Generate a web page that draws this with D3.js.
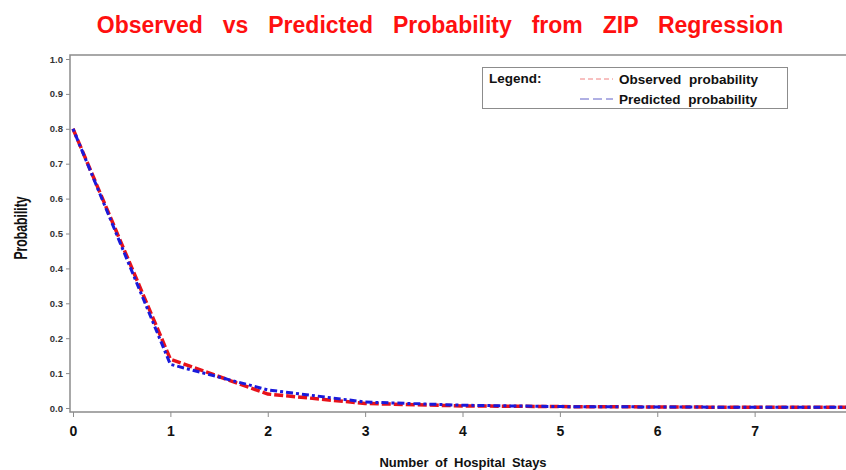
<!DOCTYPE html>
<html>
<head>
<meta charset="utf-8">
<script src="https://cdn.jsdelivr.net/npm/d3@7"></script>
<style>
  body { margin: 0; background: #fff; }
  text { font-family: Arial, "Liberation Sans", sans-serif; }
</style>
</head>
<body>
<div id="chart"></div>
<script>
// values
const stays = [0, 1, 2, 3, 4, 5, 6, 7, 8]
const observed = [0.80, 0.14, 0.04, 0.013, 0.006, 0.004, 0.003, 0.002, 0.002]
const predicted = [0.80, 0.125, 0.052, 0.017, 0.008, 0.004, 0.003, 0.002, 0.002]
const yTicks = [0, 0.1, 0.2, 0.3, 0.4, 0.5, 0.6, 0.7, 0.8, 0.9, 1.0]
const xTicks = [0, 1, 2, 3, 4, 5, 6, 7]

const width = 846, height = 470
const frame = {left: 70, top: 55, bottom: 412}

const svg = d3.select("#chart").append("svg")
  .attr("width", width).attr("height", height)

let x = d3.scaleLinear().domain([0, 8]).range([73, 852])
let y = d3.scaleLinear().domain([0, 1]).range([408, 59])

// frame lines
svg.append("path")
  .attr("d", `M${width},${frame.top}H${frame.left}V${frame.bottom}H${width}`)
  .attr("fill", "none").attr("stroke", "#8c8c8c").attr("stroke-width", 1.5)

let yAxis = g => g
  .attr("transform", `translate(${frame.left},0)`)
  .call(d3.axisLeft(y).tickValues(yTicks).tickSize(4).tickPadding(3).tickFormat(d3.format(".1f")))
  .call(g => g.select(".domain").remove())
  .call(g => g.selectAll("line").attr("stroke", "#8c8c8c"))
  .call(g => g.selectAll("text").attr("font-size", 9.5).attr("font-weight", "bold").attr("fill", "#333"))

let xAxis = g => g
  .attr("transform", `translate(0,${frame.bottom})`)
  .call(d3.axisBottom(x).tickValues(xTicks).tickSize(5).tickPadding(9).tickFormat(d3.format("d")))
  .call(g => g.select(".domain").remove())
  .call(g => g.selectAll("line").attr("stroke", "#8c8c8c"))
  .call(g => g.selectAll("text").attr("font-size", 14).attr("font-weight", "bold").attr("fill", "#111"))

svg.append("g").call(yAxis)
svg.append("g").call(xAxis)

const line = d3.line().x((d, i) => x(stays[i])).y(d => y(d))

svg.append("path")
  .datum(observed)
  .attr("d", line)
  .attr("fill", "none")
  .attr("stroke", "#e8121a")
  .attr("stroke-width", 3.5)
  .attr("stroke-dasharray", "9,3")

svg.append("path")
  .datum(predicted)
  .attr("d", line)
  .attr("fill", "none")
  .attr("stroke", "#1a1adb")
  .attr("stroke-width", 3)
  .attr("stroke-dasharray", "3,3,7,3")

// title
svg.append("text")
  .attr("x", 440).attr("y", 33)
  .attr("text-anchor", "middle")
  .attr("font-size", 23).attr("font-weight", "bold")
  .attr("fill", "#ff1010")
  .attr("word-spacing", 13.5)
  .text("Observed vs Predicted Probability from ZIP Regression")

// axis titles
svg.append("text")
  .attr("x", 463).attr("y", 467)
  .attr("text-anchor", "middle")
  .attr("font-size", 13).attr("font-weight", "bold")
  .attr("word-spacing", 3)
  .attr("fill", "#111")
  .text("Number of Hospital Stays")

svg.append("text")
  .attr("transform", "translate(27,228) rotate(-90) scale(0.68,1)")
  .attr("text-anchor", "middle")
  .attr("font-size", 18).attr("font-weight", "bold")
  .attr("fill", "#111")
  .text("Probability")

// legend
const legend = svg.append("g")
legend.append("rect")
  .attr("x", 482.5).attr("y", 67.5).attr("width", 305).attr("height", 41)
  .attr("fill", "#fff").attr("stroke", "#8c8c8c")
legend.append("text")
  .attr("x", 489).attr("y", 83)
  .attr("font-size", 13.5).attr("font-weight", "bold").attr("fill", "#111")
  .text("Legend:")

const legendItems = [
  {label: "Observed probability", color: "#f08080", dash: "5,3", y: 79},
  {label: "Predicted probability", color: "#6060c8", dash: "9,4", y: 99}
]
legend.selectAll("line.key")
  .data(legendItems)
  .join("line")
  .attr("x1", 580).attr("x2", 613)
  .attr("y1", d => d.y).attr("y2", d => d.y)
  .attr("stroke", d => d.color).attr("stroke-width", 1)
  .attr("stroke-dasharray", d => d.dash)
legend.selectAll("text.item")
  .data(legendItems)
  .join("text")
  .attr("x", 619).attr("y", d => d.y + 4.5)
  .attr("font-size", 13.5).attr("font-weight", "bold").attr("fill", "#111")
  .attr("word-spacing", 4)
  .text(d => d.label)
</script>
</body>
</html>
